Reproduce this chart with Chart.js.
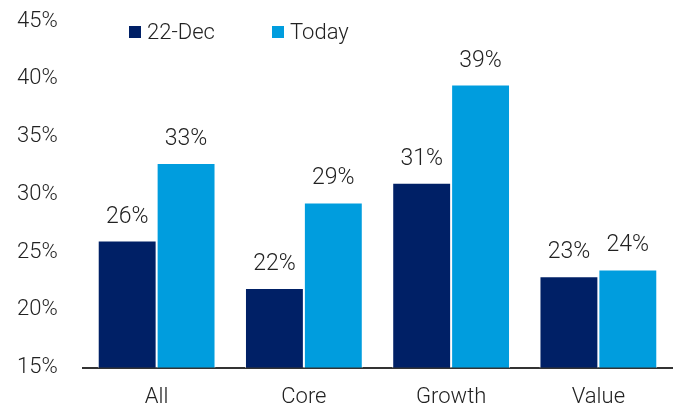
<!DOCTYPE html>
<html><head><meta charset="utf-8">
<script src="https://cdn.jsdelivr.net/npm/chart.js@4"></script>
<style>html,body{margin:0;padding:0;background:#fff}#wrap{width:681px;height:409px}</style>
</head><body><div id="wrap"><canvas id="c" width="681" height="409"></canvas></div>
<script>
const categories = ['All', 'Core', 'Growth', 'Value'];
const seriesNames = ['22-Dec', 'Today'];
const dec22 = [26.0, 21.9, 31.0, 22.9];
const today = [32.7, 29.3, 39.5, 23.5];
const dec22Labels = ['26%', '22%', '31%', '23%'];
const todayLabels = ['33%', '29%', '39%', '24%'];
const yTicks = [15, 20, 25, 30, 35, 40, 45];

const FONT = 'Roboto, "Open Sans", sans-serif';
const NAVY = '#002066';
const BLUE = '#009DDE';
const TXT = '#222';

const labelPlugin = {
  id: 'barLabels',
  afterDatasetsDraw(chart) {
    const ctx = chart.ctx;
    const lbls = [dec22Labels, todayLabels];
    ctx.save();
    ctx.font = '300 23px ' + FONT;
    ctx.fillStyle = TXT;
    ctx.textAlign = 'center';
    ctx.textBaseline = 'alphabetic';
    chart.data.datasets.forEach((ds, i) => {
      chart.getDatasetMeta(i).data.forEach((bar, j) => {
        ctx.fillText(lbls[i][j], bar.x, bar.y - 18);
      });
    });
    ctx.restore();
  }
};

const legendPlugin = {
  id: 'customLegend',
  afterDraw(chart) {
    const ctx = chart.ctx;
    const pos = [129, 272];
    ctx.save();
    ctx.font = '300 22px ' + FONT;
    ctx.textBaseline = 'alphabetic';
    chart.data.datasets.forEach((ds, i) => {
      ctx.fillStyle = ds.backgroundColor;
      ctx.fillRect(pos[i], 26, 12, 12);
      ctx.fillStyle = TXT;
      ctx.fillText(ds.label, pos[i] + 18, 39);
    });
    ctx.restore();
  }
};

new Chart(document.getElementById('c'), {
  type: 'bar',
  data: {
    labels: categories,
    datasets: [
      { label: seriesNames[0], data: dec22, backgroundColor: NAVY, borderColor: '#fff', borderWidth: 1, borderSkipped: 'bottom' },
      { label: seriesNames[1], data: today, backgroundColor: BLUE, borderColor: '#fff', borderWidth: 1, borderSkipped: 'bottom' }
    ]
  },
  options: {
    responsive: false,
    animation: false,
    devicePixelRatio: 1,
    layout: { padding: { top: 21, right: 9, left: 17, bottom: -19 } },
    datasets: { bar: { categoryPercentage: 0.8, barPercentage: 1.0 } },
    plugins: { legend: { display: false }, tooltip: { enabled: false } },
    scales: {
      x: {
        grid: { display: false, drawTicks: false },
        border: { display: true, color: '#333', width: 2 },
        ticks: { color: TXT, font: { family: FONT, size: 22, weight: 300 }, padding: 17 }
      },
      y: {
        min: 15, max: 45,
        afterBuildTicks(axis) { axis.ticks = yTicks.map(v => ({ value: v })); },
        afterFit(axis) { axis.width = 66; },
        grid: { display: false, drawTicks: false },
        border: { display: false },
        ticks: { color: TXT, font: { family: FONT, size: 22, weight: 300 }, padding: 0, crossAlign: 'far', callback: v => v + '%' }
      }
    }
  },
  plugins: [labelPlugin, legendPlugin]
});
</script></body></html>
